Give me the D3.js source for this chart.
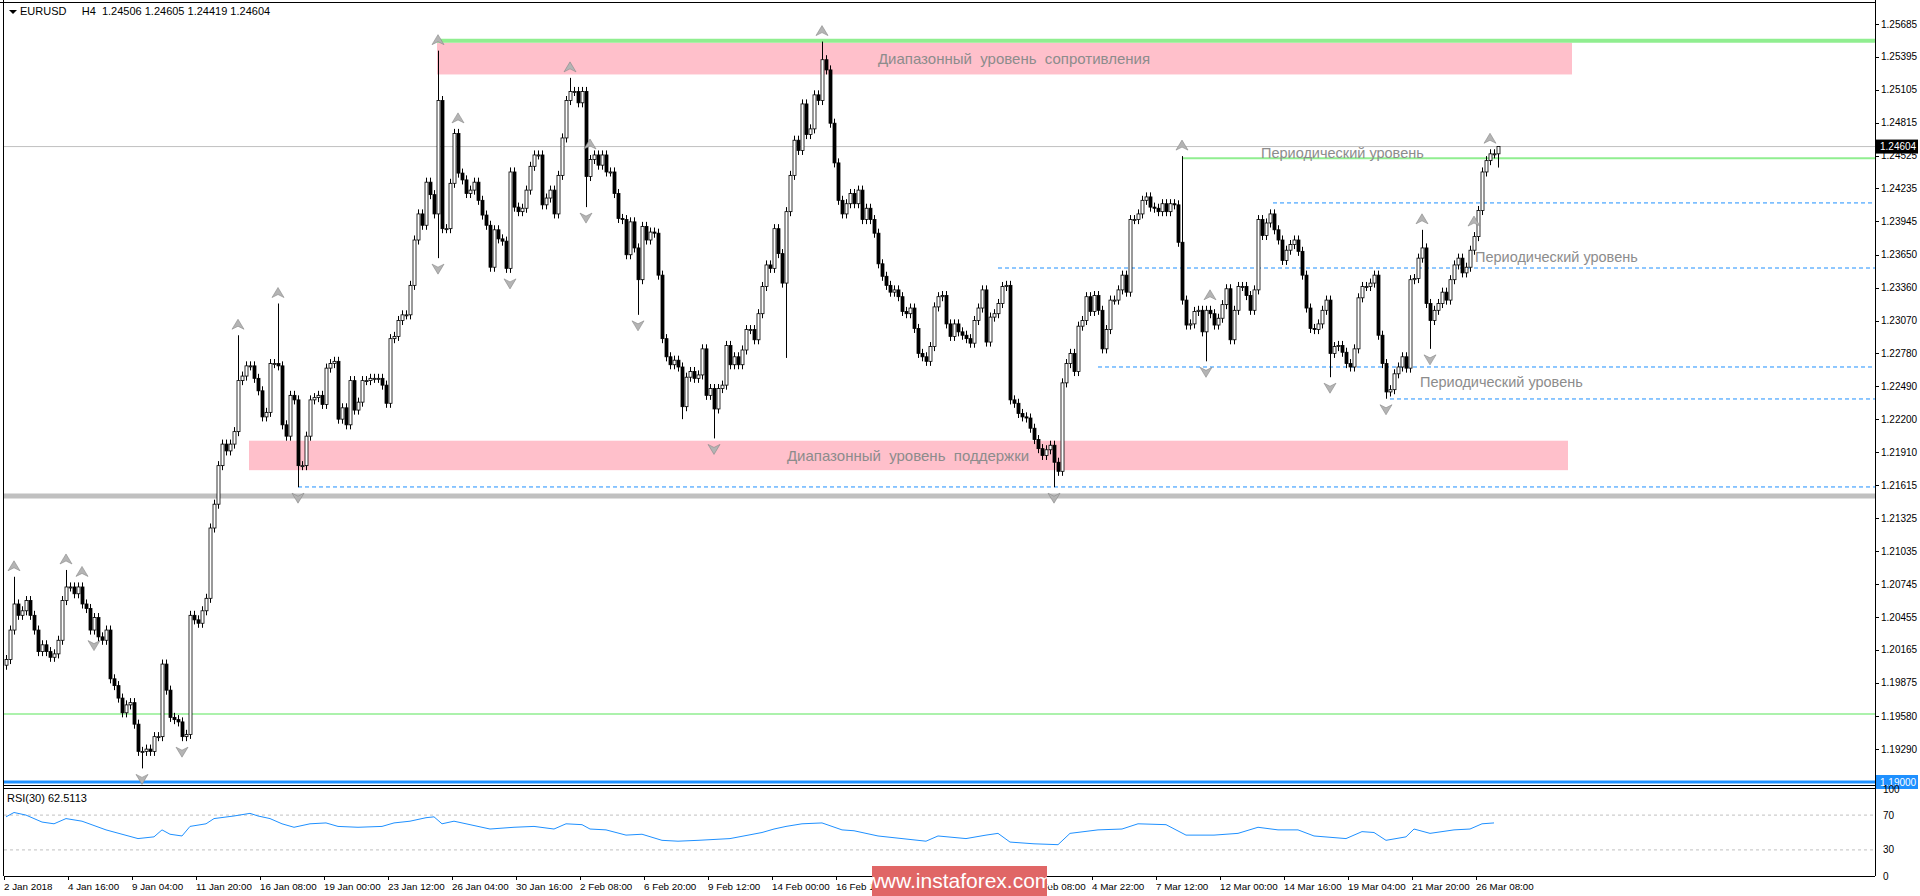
<!DOCTYPE html>
<html><head><meta charset="utf-8">
<script src="https://cdn.jsdelivr.net/npm/d3@7/dist/d3.min.js"></script>
<style>body{margin:0;background:#fff}svg{display:block}text{font-family:"Liberation Sans",Arial,sans-serif}</style>
</head><body><svg id="c" width="1920" height="896"></svg>
<script>
// ---- DATA ----
const closes = [
1.2008,1.2034,1.2057,1.2047,1.2051,1.2060,1.2047,1.2034,1.2015,1.2021,1.2015,1.2010,1.2013,1.2025,1.2060,1.2072,1.2072,1.2066,1.2072,1.2057,1.2053,1.2034,1.2045,1.2028,1.2025,1.2034,1.1991,1.1985,1.1974,1.1961,1.1968,1.1970,1.1951,1.1927,1.1927,1.1929,1.1927,1.1940,1.1940,1.2004,1.1981,1.1957,1.1955,1.1953,1.1940,1.1942,1.2047,1.2043,1.2040,1.2051,1.2062,1.2124,1.2145,1.2179,1.2198,1.2192,1.2198,1.2209,1.2254,1.2258,1.2267,1.2267,1.2256,1.2245,1.2222,1.2226,1.2269,1.2269,1.2267,1.2215,1.2205,1.2241,1.2237,1.2179,1.2179,1.2205,1.2237,1.2239,1.2241,1.2233,1.2265,1.2269,1.2271,1.2220,1.2230,1.2215,1.2254,1.2228,1.2235,1.2254,1.2254,1.2256,1.2256,1.2256,
1.2250,1.2234,1.2291,1.2293,1.2307,1.2312,1.2312,1.2338,1.2378,1.2401,1.2391,1.2429,1.2418,1.2401,1.2501,1.2388,1.2388,1.2428,1.2472,1.2437,1.2431,1.2419,1.2422,1.2429,1.2413,1.2400,1.2391,1.2354,1.2387,1.2379,1.2377,1.2353,1.2438,1.2407,1.2403,1.2406,1.2422,1.2443,1.2453,1.2453,1.2409,1.2415,1.2422,1.2401,1.2435,1.2468,1.2501,1.2509,1.2509,1.2499,1.2509,1.2434,1.2449,1.2453,1.2444,1.2453,1.2438,1.2438,1.2419,1.2397,1.2396,1.2365,1.2394,1.2371,1.2343,1.2390,1.2378,1.2385,1.2384,1.2347,1.2291,1.2275,1.2268,1.2272,1.2266,1.2231,1.2257,1.2262,1.2256,1.2259,1.2282,1.2241,1.2247,1.2229,1.2247,1.2250,1.2285,1.2268,1.2275,1.2268,1.2281,1.2299,1.2299,
1.2290,1.2313,1.2337,1.2356,1.2353,1.2388,1.2366,1.2340,1.2403,1.2435,1.2466,1.2457,1.2498,1.2471,1.2476,1.2506,1.2501,1.2537,1.2528,1.2481,1.2446,1.2413,1.2401,1.2410,1.2419,1.2410,1.2422,1.2396,1.2406,1.2396,1.2384,1.2357,1.2346,1.2338,1.2332,1.2334,1.2328,1.2315,1.2313,1.2318,1.2300,1.2278,1.2275,1.2271,1.2284,1.2319,1.2328,1.2329,1.2304,1.2293,1.2304,1.2297,1.2294,1.2291,1.2287,1.2307,1.2318,1.2334,1.2288,1.2310,1.2313,1.2322,1.2337,1.2338,1.2237,1.2234,1.2225,1.2222,1.2221,1.2212,1.2202,1.2194,1.2188,1.2193,1.2197,1.2182,1.2174,1.2252,1.2269,1.2278,1.2262,1.2302,1.2307,1.2328,1.2315,1.2329,1.2316,1.2282,1.2299,1.2325,1.2325,1.2334,
1.2347,1.2332,1.2396,1.2396,1.2401,1.2413,1.2416,1.2407,1.2406,1.2403,1.2410,1.2403,1.2410,1.2409,1.2376,1.2325,1.2303,1.2304,1.2315,1.2316,1.2297,1.2316,1.2313,1.2303,1.2309,1.2321,1.2335,1.2290,1.2316,1.2337,1.2337,1.2329,1.2316,1.2334,1.2396,1.2382,1.2393,1.2401,1.2387,1.2378,1.2360,1.2369,1.2374,1.2378,1.2368,1.2347,1.2318,1.2300,1.2299,1.2304,1.2316,1.2325,1.2278,1.2284,1.2285,1.2279,1.2269,1.2266,1.2282,1.2327,1.2337,1.2337,1.2340,1.2347,1.2294,1.2269,1.2244,1.2246,1.2260,1.2266,1.2275,1.2265,1.2343,1.2344,1.2362,1.2371,1.2322,1.2307,1.2316,1.2322,1.2332,1.2325,1.2343,1.2356,1.2362,1.2349,1.2354,1.2369,1.2381,1.2404,1.2438,1.2448,1.2454,1.2454,1.24604];
const firstOpen = 1.2003;
const wickPips = 4;
const highSpikes = [[2,1.2081],[15,1.2087],[58,1.2294],[68,1.2322],[108,1.2545],[141,1.2521],[204,1.2553],[294,1.2452],[354,1.2387],[373,1.24605]];
const lowSpikes = [[34,1.1912],[73,1.2160],[108,1.2362],[145,1.2407],[158,1.2312],[169,1.2220],[177,1.2203],[195,1.2274],[262,1.2160],[300,1.2271],[331,1.2257],[345,1.2238],[356,1.2282],[373,1.24419]];
const upFractals = [2,15,19,58,68,108,113,141,146,204,294,301,354,367,371];
const downFractals = [22,34,44,73,108,126,145,158,177,262,300,331,345,356];
const rsiIdx = [0,2,5,9,12,15,19,22,25,29,33,37,39,41,44,46,50,52,57,61,63,66,69,72,76,80,83,88,94,97,101,105,107,109,112,116,121,127,132,137,140,144,146,150,155,159,164,168,173,181,189,192,195,199,204,209,212,218,224,230,233,240,245,248,251,257,263,266,273,279,283,290,295,302,308,313,318,323,327,335,339,342,345,350,352,356,362,366,369,372];
const rsiVal = [68,73,70,62,60,66,63,58,53,48,43,45,53,48,46,57,60,66,69,72,69,66,60,56,60,61,57,56,57,61,63,67,68,60,63,59,54,56,57,54,60,59,54,53,47,48,41,40,41,43,50,54,57,60,61,53,52,46,43,40,46,43,47,49,39,37,36,49,53,54,60,59,47,47,49,56,53,53,46,43,51,50,41,45,54,49,53,54,60,61];
const priceTicks = [1.25685,1.25395,1.25105,1.24815,1.24525,1.24235,1.23945,1.23650,1.23360,1.23070,1.22780,1.22490,1.22200,1.21910,1.21615,1.21325,1.21035,1.20745,1.20455,1.20165,1.19875,1.19580,1.19290];
const timeLabels = ["2 Jan 2018","4 Jan 16:00","9 Jan 04:00","11 Jan 20:00","16 Jan 08:00","19 Jan 00:00","23 Jan 12:00","26 Jan 04:00","30 Jan 16:00","2 Feb 08:00","6 Feb 20:00","9 Feb 12:00","14 Feb 00:00","16 Feb 16:00","21 Feb 04:00","23 Feb 20:00","28 Feb 08:00","4 Mar 22:00","7 Mar 12:00","12 Mar 00:00","14 Mar 16:00","19 Mar 04:00","21 Mar 20:00","26 Mar 08:00"];
const zones = [{from:107.75,to:391.5,top:1.2552,bot:1.2524,label:"Диапазонный  уровень  сопротивления",lx:252,lp:1.2538},
               {from:60.75,to:390.5,top:1.2201,bot:1.2175,label:"Диапазонный  уровень  поддержки",lx:225.5,lp:1.2188}];
const greenLevels = [{p:1.25538,from:107.75,w:4},{p:1.2450,from:294,w:2},{p:1.1960,from:-2,w:1.5}];
const dashedLevels = [{p:1.24107,from:316.75},{p:1.23533,from:248},{p:1.22660,from:273},{p:1.22378,from:346},{p:1.21602,from:73}];
const periodicLabels = [{i:313.75,p:1.2455},{i:367.25,p:1.2363},{i:353.5,p:1.2253}];
const titleText = "EURUSD     H4  1.24506 1.24605 1.24419 1.24604";

// ---- DRAW ----
const svg = d3.select("#c");
const L=4, R=1875, MT=3, MB=785, RT=788, RB=876;
const x = d3.scaleLinear().domain([0,373]).range([6,1498]);
const y = d3.scaleLinear().domain([1.19,1.25685]).range([782,24]);
const yr = d3.scaleLinear().domain([0,100]).range([876,789]);
const bars = closes.map((c,i)=>{const o=i?closes[i-1]:firstOpen;return {i,o,c,h:Math.max(o,c)+wickPips/10000,l:Math.min(o,c)-wickPips/10000};});
highSpikes.forEach(([i,v])=>bars[i].h=v); lowSpikes.forEach(([i,v])=>bars[i].l=v);

svg.append("clipPath").attr("id","mc").append("rect").attr("x",L).attr("y",MT).attr("width",R-L).attr("height",MB-MT);
const g = svg.append("g").attr("clip-path","url(#mc)");
zones.forEach(z=>{
  g.append("rect").attr("x",x(z.from)).attr("width",x(z.to)-x(z.from)).attr("y",y(z.top)).attr("height",y(z.bot)-y(z.top)).attr("fill","#ffc0cb");
});
g.append("line").attr("x1",L).attr("x2",R).attr("y1",y(1.21522)).attr("y2",y(1.21522)).attr("stroke","#c0c0c0").attr("stroke-width",5);
g.append("line").attr("x1",L).attr("x2",R).attr("y1",y(1.24604)).attr("y2",y(1.24604)).attr("stroke","#c0c0c0").attr("stroke-width",1);
greenLevels.forEach(l=>g.append("line").attr("x1",x(l.from)).attr("x2",R).attr("y1",y(l.p)).attr("y2",y(l.p)).attr("stroke","#90ee90").attr("stroke-width",l.w));
dashedLevels.forEach(l=>g.append("line").attr("x1",x(l.from)).attr("x2",R).attr("y1",y(l.p)).attr("y2",y(l.p)).attr("stroke","#1e90ff").attr("stroke-dasharray","4,3").attr("stroke-width",1));
g.append("line").attr("x1",L).attr("x2",R).attr("y1",y(1.19)).attr("y2",y(1.19)).attr("stroke","#1e90ff").attr("stroke-width",3);
zones.forEach(z=>g.append("text").attr("x",x(z.lx)).attr("y",y(z.lp)).attr("dy","0.35em").attr("text-anchor","middle").attr("font-size",15).attr("fill","#8c8c8c").attr("xml:space","preserve").text(z.label));
periodicLabels.forEach(l=>g.append("text").attr("x",x(l.i)).attr("y",y(l.p)).attr("dy","0.35em").attr("font-size",14.5).attr("fill","#8c8c8c").text("Периодический уровень"));
const cg = g.append("g");
bars.forEach(b=>{
  const cx=Math.round(x(b.i))+0.5;
  cg.append("line").attr("x1",cx).attr("x2",cx).attr("y1",y(b.h)).attr("y2",y(b.l)).attr("stroke","#000");
  const t=Math.min(y(b.o),y(b.c)), hgt=Math.max(1,Math.abs(y(b.o)-y(b.c)));
  cg.append("rect").attr("x",cx-1.5).attr("width",3).attr("y",t).attr("height",hgt).attr("fill",b.c>=b.o?"#fff":"#000").attr("stroke","#000").attr("stroke-width",0.8);
});
const arrow = (cx,cy,up)=>{const s=up?1:-1;return `M${cx},${cy-6*s} L${cx+6},${cy+4*s} L${cx},${cy+1*s} L${cx-6},${cy+4*s} Z`;};
upFractals.forEach(i=>g.append("path").attr("d",arrow(x(i),y(bars[i].h)-10,true)).attr("fill","#b4b4b4").attr("stroke","#888").attr("stroke-width",0.6));
downFractals.forEach(i=>g.append("path").attr("d",arrow(x(i),y(bars[i].l)+10,false)).attr("fill","#b4b4b4").attr("stroke","#888").attr("stroke-width",0.6));

svg.append("line").attr("x1",L-0.5).attr("x2",L-0.5).attr("y1",0).attr("y2",RB).attr("stroke","#000");
svg.append("line").attr("x1",R+0.5).attr("x2",R+0.5).attr("y1",0).attr("y2",RB).attr("stroke","#000");
svg.append("line").attr("x1",L).attr("x2",R).attr("y1",MB+0.5).attr("y2",MB+0.5).attr("stroke","#000");
svg.append("line").attr("x1",L).attr("x2",R).attr("y1",RT+0.5).attr("y2",RT+0.5).attr("stroke","#000");
svg.append("line").attr("x1",L).attr("x2",R).attr("y1",RB+0.5).attr("y2",RB+0.5).attr("stroke","#000");
svg.append("line").attr("x1",0).attr("x2",R).attr("y1",2.5).attr("y2",2.5).attr("stroke","#000");

svg.append("path").attr("d","M9,10 L17,10 L13,14 Z").attr("fill","#000");
svg.append("text").attr("x",20).attr("y",15).attr("font-size",11).attr("xml:space","preserve").text(titleText);

priceTicks.forEach(p=>{
  svg.append("line").attr("x1",R).attr("x2",R+4).attr("y1",Math.round(y(p))+0.5).attr("y2",Math.round(y(p))+0.5).attr("stroke","#000");
  svg.append("text").attr("x",R+6).attr("y",y(p)).attr("dy","0.35em").attr("font-size",10).text(p.toFixed(5));
});
const tag=(p,bg,txt)=>{svg.append("rect").attr("x",R+1).attr("y",y(p)-7).attr("width",42).attr("height",14).attr("fill",bg);
  svg.append("text").attr("x",R+5).attr("y",y(p)).attr("dy","0.35em").attr("font-size",10).attr("fill","#fff").text(txt);};
tag(1.24604,"#000","1.24604"); tag(1.19,"#1e90ff","1.19000");

svg.append("text").attr("x",7).attr("y",802).attr("font-size",11).text("RSI(30) 62.5113");
[70,30].forEach(v=>svg.append("line").attr("x1",L).attr("x2",R).attr("y1",yr(v)).attr("y2",yr(v)).attr("stroke","#c0c0c0").attr("stroke-dasharray","3,3"));
[100,70,30,0].forEach(v=>svg.append("text").attr("x",R+8).attr("y",yr(v)).attr("dy","0.35em").attr("font-size",10).text(v));
svg.append("path").datum(rsiIdx.map((d,k)=>[d,rsiVal[k]])).attr("fill","none").attr("stroke","#1e90ff").attr("stroke-width",1)
  .attr("d",d3.line().x(d=>x(d[0])).y(d=>yr(d[1])));

timeLabels.forEach((t,k)=>{
  const xi=x(16*k)-2;
  svg.append("line").attr("x1",xi+0.5).attr("x2",xi+0.5).attr("y1",RB).attr("y2",RB+4).attr("stroke","#000");
  svg.append("text").attr("x",xi).attr("y",890).attr("font-size",9.8).text(t);
});
svg.append("rect").attr("x",872).attr("y",866).attr("width",175).attr("height",30).attr("fill","#e06666");
svg.append("text").attr("x",959).attr("y",888).attr("text-anchor","middle").attr("font-size",21).attr("fill","#fff").text("www.instaforex.com");
</script></body></html>
